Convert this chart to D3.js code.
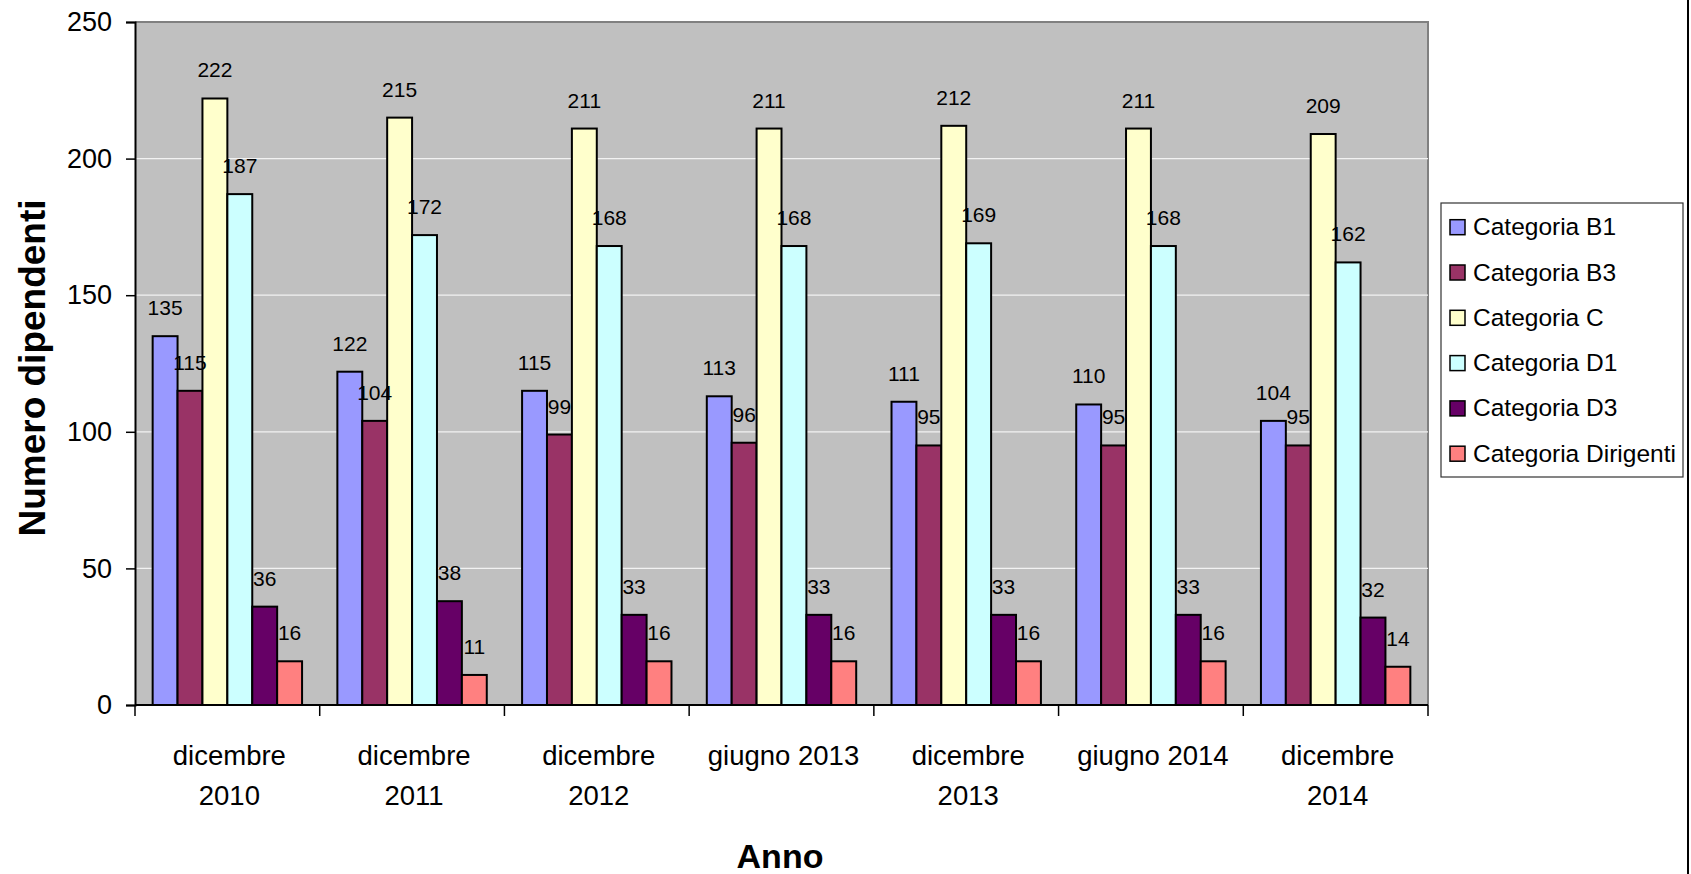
<!DOCTYPE html>
<html>
<head>
<meta charset="utf-8">
<script src="https://cdn.jsdelivr.net/npm/d3@7"></script>
<style>
  html, body { margin: 0; padding: 0; background: #fff; }
  svg { display: block; font-family: "Liberation Sans", Arial, sans-serif; }
</style>
</head>
<body>
<svg id="chart" width="1691" height="874"></svg>
<script>
const categories = [
  ["dicembre", "2010"],
  ["dicembre", "2011"],
  ["dicembre", "2012"],
  ["giugno 2013"],
  ["dicembre", "2013"],
  ["giugno 2014"],
  ["dicembre", "2014"]
];
const seriesNames = ["Categoria B1", "Categoria B3", "Categoria C", "Categoria D1", "Categoria D3", "Categoria Dirigenti"];
const seriesColors = ["#9999FF", "#993366", "#FFFFCC", "#CCFFFF", "#660066", "#FF8080"];
const catB1 = [135, 122, 115, 113, 111, 110, 104];
const catB3 = [115, 104, 99, 96, 95, 95, 95];
const catC = [222, 215, 211, 211, 212, 211, 209];
const catD1 = [187, 172, 168, 168, 169, 168, 162];
const catD3 = [36, 38, 33, 33, 33, 33, 32];
const catDir = [16, 11, 16, 16, 16, 16, 14];
const yTicks = [0, 50, 100, 150, 200, 250];

const seriesValues = [catB1, catB3, catC, catD1, catD3, catDir];
const catKeys = categories.map(c => c.join(" "));

const svg = d3.select("#chart");
const L = 135, R = 1428, T = 22, B = 705;

const x0 = d3.scaleBand().domain(catKeys).range([L, R]).padding(0);
const x1 = d3.scaleBand().domain(seriesNames).range([0, x0.bandwidth()]).paddingInner(0).paddingOuter(0.709);
const y = d3.scaleLinear().domain([0, 250]).range([B, T]);

// outer chart border (right edge visible)
svg.append("line").attr("x1", 1688).attr("x2", 1688).attr("y1", 0).attr("y2", 874)
  .attr("stroke", "#000").attr("stroke-width", 2);

// plot area
svg.append("rect").attr("x", L).attr("y", T).attr("width", R - L).attr("height", B - T)
  .attr("fill", "#C0C0C0");
svg.append("path").attr("d", `M${L},${T}H${R}V${B}`).attr("fill", "none")
  .attr("stroke", "#808080").attr("stroke-width", 2);

// gridlines
svg.append("g").selectAll("line").data(yTicks.filter(t => t > 0 && t < 250)).join("line")
  .attr("x1", L).attr("x2", R).attr("y1", d => y(d)).attr("y2", d => y(d))
  .attr("stroke", "#F2F2F2").attr("stroke-width", 1.2);

// bars
const groups = svg.append("g").selectAll("g").data(catKeys).join("g")
  .attr("transform", d => `translate(${x0(d)},0)`);
groups.selectAll("rect").data((d, i) => seriesNames.map((s, j) => ({ s, j, v: seriesValues[j][i] }))).join("rect")
  .attr("x", d => x1(d.s)).attr("width", x1.bandwidth())
  .attr("y", d => y(d.v)).attr("height", d => y(0) - y(d.v))
  .attr("fill", d => seriesColors[d.j]).attr("stroke", "#000").attr("stroke-width", 2);
groups.selectAll("text").data((d, i) => seriesNames.map((s, j) => ({ s, j, v: seriesValues[j][i] }))).join("text")
  .attr("x", d => x1(d.s) + x1.bandwidth() / 2).attr("y", d => y(d.v) - 21)
  .attr("text-anchor", "middle").attr("font-size", 21).attr("fill", "#000")
  .text(d => d.v);

// y axis
const yAxis = d3.axisLeft(y).tickValues(yTicks).tickSize(9).tickPadding(14);
const gy = svg.append("g").attr("transform", `translate(${L},0)`).call(yAxis);
gy.select(".domain").attr("stroke", "#000").attr("stroke-width", 2);
gy.selectAll(".tick line").attr("stroke", "#000").attr("stroke-width", 1.5);
gy.selectAll(".tick text").attr("font-size", 27).attr("fill", "#000")
  .attr("font-family", "Liberation Sans, Arial, sans-serif");

// x axis
const bounds = catKeys.map(k => x0(k)).concat([R]);
const gx = svg.append("g");
gx.append("line").attr("x1", L).attr("x2", R).attr("y1", B).attr("y2", B)
  .attr("stroke", "#000").attr("stroke-width", 2);
gx.selectAll("line.tk").data(bounds).join("line").attr("class", "tk")
  .attr("x1", d => d).attr("x2", d => d).attr("y1", B).attr("y2", B + 11)
  .attr("stroke", "#000").attr("stroke-width", 1.5);
const cl = gx.selectAll("text.cat").data(categories).join("text").attr("class", "cat")
  .attr("x", (d, i) => x0(catKeys[i]) + x0.bandwidth() / 2 + 2)
  .attr("y", 765).attr("text-anchor", "middle").attr("font-size", 27.5).attr("fill", "#000");
cl.selectAll("tspan").data(d => d).join("tspan")
  .attr("x", function () { return d3.select(this.parentNode).attr("x"); })
  .attr("dy", (d, i) => i === 0 ? 0 : 40)
  .text(d => d);

// axis titles
svg.append("text").attr("transform", "translate(45,368) rotate(-90)")
  .attr("text-anchor", "middle").attr("font-size", 37).attr("font-weight", "bold").attr("fill", "#000")
  .text("Numero dipendenti");
svg.append("text").attr("x", 780).attr("y", 868)
  .attr("text-anchor", "middle").attr("font-size", 34).attr("font-weight", "bold").attr("fill", "#000")
  .text("Anno");

// legend
const lg = svg.append("g");
lg.append("rect").attr("x", 1441).attr("y", 203).attr("width", 242).attr("height", 274)
  .attr("fill", "#fff").attr("stroke", "#333").attr("stroke-width", 1.2);
const items = lg.selectAll("g").data(seriesNames).join("g")
  .attr("transform", (d, i) => `translate(0,${226.7 + i * 45.3})`);
items.append("rect").attr("x", 1450).attr("y", -7).attr("width", 15).attr("height", 15)
  .attr("fill", (d, i) => seriesColors[i]).attr("stroke", "#000").attr("stroke-width", 1.5);
items.append("text").attr("x", 1473).attr("y", 0).attr("dy", "0.35em")
  .attr("font-size", 24.5).attr("fill", "#000").text(d => d);
</script>
</body>
</html>
